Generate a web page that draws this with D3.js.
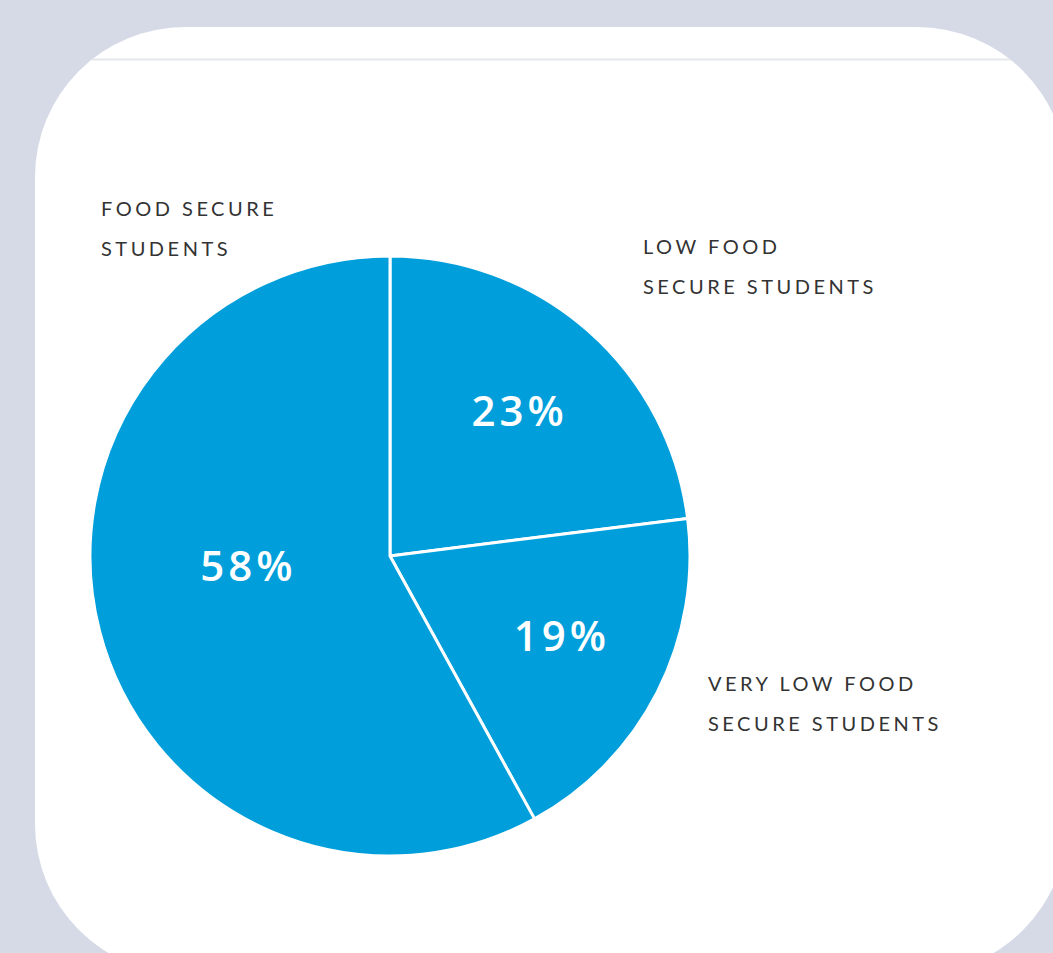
<!DOCTYPE html>
<html>
<head>
<meta charset="utf-8">
<script src="https://cdn.jsdelivr.net/npm/d3@7"></script>
<style>
  html, body { margin: 0; padding: 0; background: #d5dae6; overflow: hidden; }
  svg { display: block; }
</style>
</head>
<body>
<div id="chart"></div>
<script>
// slices go clockwise from 12 o'clock
const categories = ["LOW FOOD SECURE STUDENTS", "VERY LOW FOOD SECURE STUDENTS", "FOOD SECURE STUDENTS"];
const values = [23, 19, 58];
const labelLines = [
    ["LOW FOOD", "SECURE STUDENTS"],
    ["VERY LOW FOOD", "SECURE STUDENTS"],
    ["FOOD SECURE", "STUDENTS"]
];

const W = 1053, H = 953;
const cx = 390, cy = 556, radius = 300;

const svg = d3.select("#chart")
    .append("svg")
    .attr("width", W)
    .attr("height", H);

// card
svg.append("defs").append("clipPath")
    .attr("id", "card-clip")
    .append("rect")
    .attr("x", 35).attr("y", 27)
    .attr("width", 1032).attr("height", 947)
    .attr("rx", 150).attr("ry", 150);

svg.append("rect")
    .attr("x", 35).attr("y", 27)
    .attr("width", 1032).attr("height", 947)
    .attr("rx", 150).attr("ry", 150)
    .attr("fill", "#fff");

svg.append("line")
    .attr("clip-path", "url(#card-clip)")
    .attr("x1", 0).attr("x2", W)
    .attr("y1", 59.5).attr("y2", 59.5)
    .attr("stroke", "#e6e7ea")
    .attr("stroke-width", 2);

const g = svg.append("g")
    .attr("transform", `translate(${cx}, ${cy})`);

const pie = d3.pie().sort(null).value(d => d);
const arcs = pie(values);

const arc = d3.arc().innerRadius(0).outerRadius(radius);

g.selectAll(".slice")
    .data(arcs)
    .enter()
    .append("path")
    .attr("class", "slice")
    .attr("d", arc)
    .attr("fill", "#009fdb")
    .attr("stroke", "#fff")
    .attr("stroke-width", 3)
    .attr("stroke-linejoin", "round");

// percent labels
const labelArc = d3.arc().innerRadius(193).outerRadius(193);
const bigArc = d3.arc().innerRadius(142).outerRadius(142);
const nudge = [[2, 0], [0, -8], [-4, -25]];

g.selectAll(".pct")
    .data(arcs)
    .enter()
    .append("text")
    .attr("class", "pct")
    .attr("transform", (d, i) => {
        const c = d.data > 50 ? bigArc.centroid(d) : labelArc.centroid(d);
        return `translate(${c[0] + nudge[i][0]}, ${c[1] + nudge[i][1]})`;
    })
    .attr("text-anchor", "middle")
    .attr("dy", "0.36em")
    .style("font-family", "'Open Sans', Lato, sans-serif")
    .style("font-weight", "600")
    .style("font-size", "42px")
    .style("letter-spacing", "4px")
    .style("fill", "#fff")
    .text(d => d.data + "%");

// outer category labels (top-left corner of each block, relative to pie centre)
const labelPos = [[253, -302], [318, 135], [-289, -340]];

labelLines.forEach((lines, i) => {
    const t = svg.append("text")
        .attr("x", cx + labelPos[i][0])
        .attr("y", cy + labelPos[i][1])
        .style("font-family", "Lato, 'Open Sans', sans-serif")
        .style("font-size", "20px")
        .style("letter-spacing", "3.5px")
        .style("fill", "#333");
    lines.forEach((line, j) => {
        t.append("tspan")
            .attr("x", cx + labelPos[i][0])
            .attr("dy", j === 0 ? 0 : 40)
            .text(line);
    });
});
</script>
</body>
</html>
